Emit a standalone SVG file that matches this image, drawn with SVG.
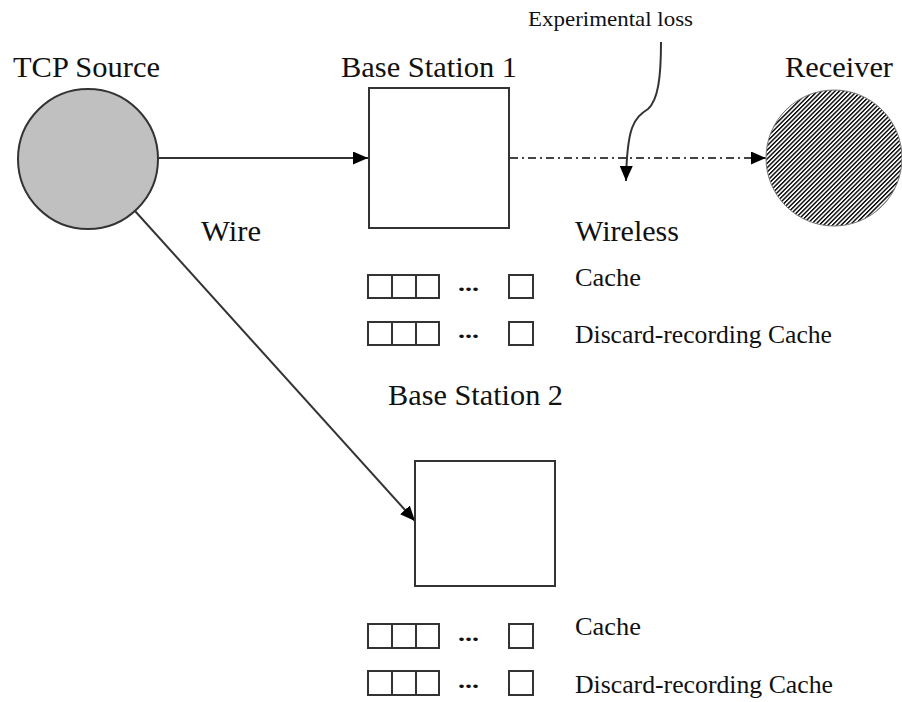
<svg xmlns="http://www.w3.org/2000/svg" width="902" height="702" viewBox="0 0 902 702">
  <style>
    .lbl { font-family: "Liberation Serif", "Times New Roman", serif; fill: #111; }
    .big { font-size: 30px; }
    .mid { font-size: 25.5px; }
    .small { font-size: 21px; }
    .dots { font-family: "Liberation Serif", serif; font-size: 22px; font-weight: bold; fill: #111; }
    .box { fill: #fff; stroke: #333; stroke-width: 2; }
    .cell { fill: #fff; stroke: #333; stroke-width: 2; }
    .wire { fill: none; stroke: #333; stroke-width: 2; }
    .radio { fill: none; stroke: #444; stroke-width: 2; stroke-dasharray: 8 4 2 4; }
  </style>
  <defs>
    <marker id="arrow" markerUnits="userSpaceOnUse" viewBox="0 0 15 13" markerWidth="15" markerHeight="13" refX="15" refY="6.5" orient="auto">
      <path d="M0,0 L15,6.5 L0,13 z" fill="#000"/>
    </marker>
    <pattern id="hatch" patternUnits="userSpaceOnUse" width="3.1" height="3.1" patternTransform="rotate(45)">
      <rect x="0" y="0" width="3.1" height="3.1" fill="#fff"/>
      <rect x="0" y="0" width="1.4" height="3.1" fill="#000"/>
    </pattern>
  </defs>

  <rect width="902" height="702" fill="#fff"/>

  <!-- links -->
  <g id="connectors">
    <line class="wire" x1="158" y1="158" x2="368" y2="158" marker-end="url(#arrow)"/>
    <line class="wire" x1="135" y1="211" x2="415" y2="521" marker-end="url(#arrow)"/>
    <line class="radio" x1="510" y1="158" x2="766" y2="158" marker-end="url(#arrow)"/>
    <path class="wire" d="M661,42 C661,78 658,100 648,109 C 634,118 627,126 626,181" marker-end="url(#arrow)"/>
  </g>

  <g id="tcp-source">
    <circle cx="88" cy="159" r="70" fill="#c0c0c0" stroke="#333" stroke-width="2"/>
    <text class="lbl big" x="13" y="77" textLength="147" lengthAdjust="spacingAndGlyphs">TCP Source</text>
  </g>

  <g id="base-station-1">
    <rect class="box" x="369" y="88" width="140" height="140"/>
    <text class="lbl big" x="341" y="77" textLength="176" lengthAdjust="spacingAndGlyphs">Base Station 1</text>
  </g>

  <g id="receiver">
    <circle cx="834" cy="158" r="68" fill="url(#hatch)" stroke="#777" stroke-width="1"/>
    <text class="lbl big" x="785" y="77" textLength="108" lengthAdjust="spacingAndGlyphs">Receiver</text>
  </g>

  <g id="base-station-2">
    <rect class="box" x="415" y="461" width="140" height="125"/>
    <text class="lbl big" x="388" y="405" textLength="175" lengthAdjust="spacingAndGlyphs">Base Station 2</text>
  </g>

  <g id="labels">
    <text class="lbl small" x="528" y="26" textLength="165" lengthAdjust="spacingAndGlyphs">Experimental loss</text>
    <text class="lbl big" x="201" y="241" textLength="60" lengthAdjust="spacingAndGlyphs">Wire</text>
    <text class="lbl big" x="575" y="241" textLength="104" lengthAdjust="spacingAndGlyphs">Wireless</text>
  </g>

  <!-- buffers at base station 1 -->
  <g id="bs1-cache">
    <rect class="cell" x="368" y="275" width="24" height="23"/>
    <rect class="cell" x="392" y="275" width="24" height="23"/>
    <rect class="cell" x="416" y="275" width="23" height="23"/>
    <text class="dots" x="458" y="291" textLength="21" lengthAdjust="spacingAndGlyphs">...</text>
    <rect class="cell" x="509" y="275" width="24" height="23"/>
    <text class="lbl mid" x="575" y="286" textLength="66" lengthAdjust="spacingAndGlyphs">Cache</text>
  </g>
  <g id="bs1-discard-cache">
    <rect class="cell" x="368" y="322" width="24" height="23"/>
    <rect class="cell" x="392" y="322" width="24" height="23"/>
    <rect class="cell" x="416" y="322" width="23" height="23"/>
    <text class="dots" x="458" y="338" textLength="21" lengthAdjust="spacingAndGlyphs">...</text>
    <rect class="cell" x="509" y="322" width="24" height="23"/>
    <text class="lbl mid" x="575" y="343" textLength="257" lengthAdjust="spacingAndGlyphs">Discard-recording Cache</text>
  </g>

  <!-- buffers at base station 2 -->
  <g id="bs2-cache">
    <rect class="cell" x="368" y="624" width="24" height="24"/>
    <rect class="cell" x="392" y="624" width="24" height="24"/>
    <rect class="cell" x="416" y="624" width="23" height="24"/>
    <text class="dots" x="458" y="641" textLength="21" lengthAdjust="spacingAndGlyphs">...</text>
    <rect class="cell" x="509" y="624" width="24" height="24"/>
    <text class="lbl mid" x="575" y="635" textLength="66" lengthAdjust="spacingAndGlyphs">Cache</text>
  </g>
  <g id="bs2-discard-cache">
    <rect class="cell" x="368" y="671" width="24" height="24"/>
    <rect class="cell" x="392" y="671" width="24" height="24"/>
    <rect class="cell" x="416" y="671" width="23" height="24"/>
    <text class="dots" x="458" y="688" textLength="21" lengthAdjust="spacingAndGlyphs">...</text>
    <rect class="cell" x="509" y="671" width="24" height="24"/>
    <text class="lbl mid" x="575" y="693" textLength="258" lengthAdjust="spacingAndGlyphs">Discard-recording Cache</text>
  </g>
</svg>
